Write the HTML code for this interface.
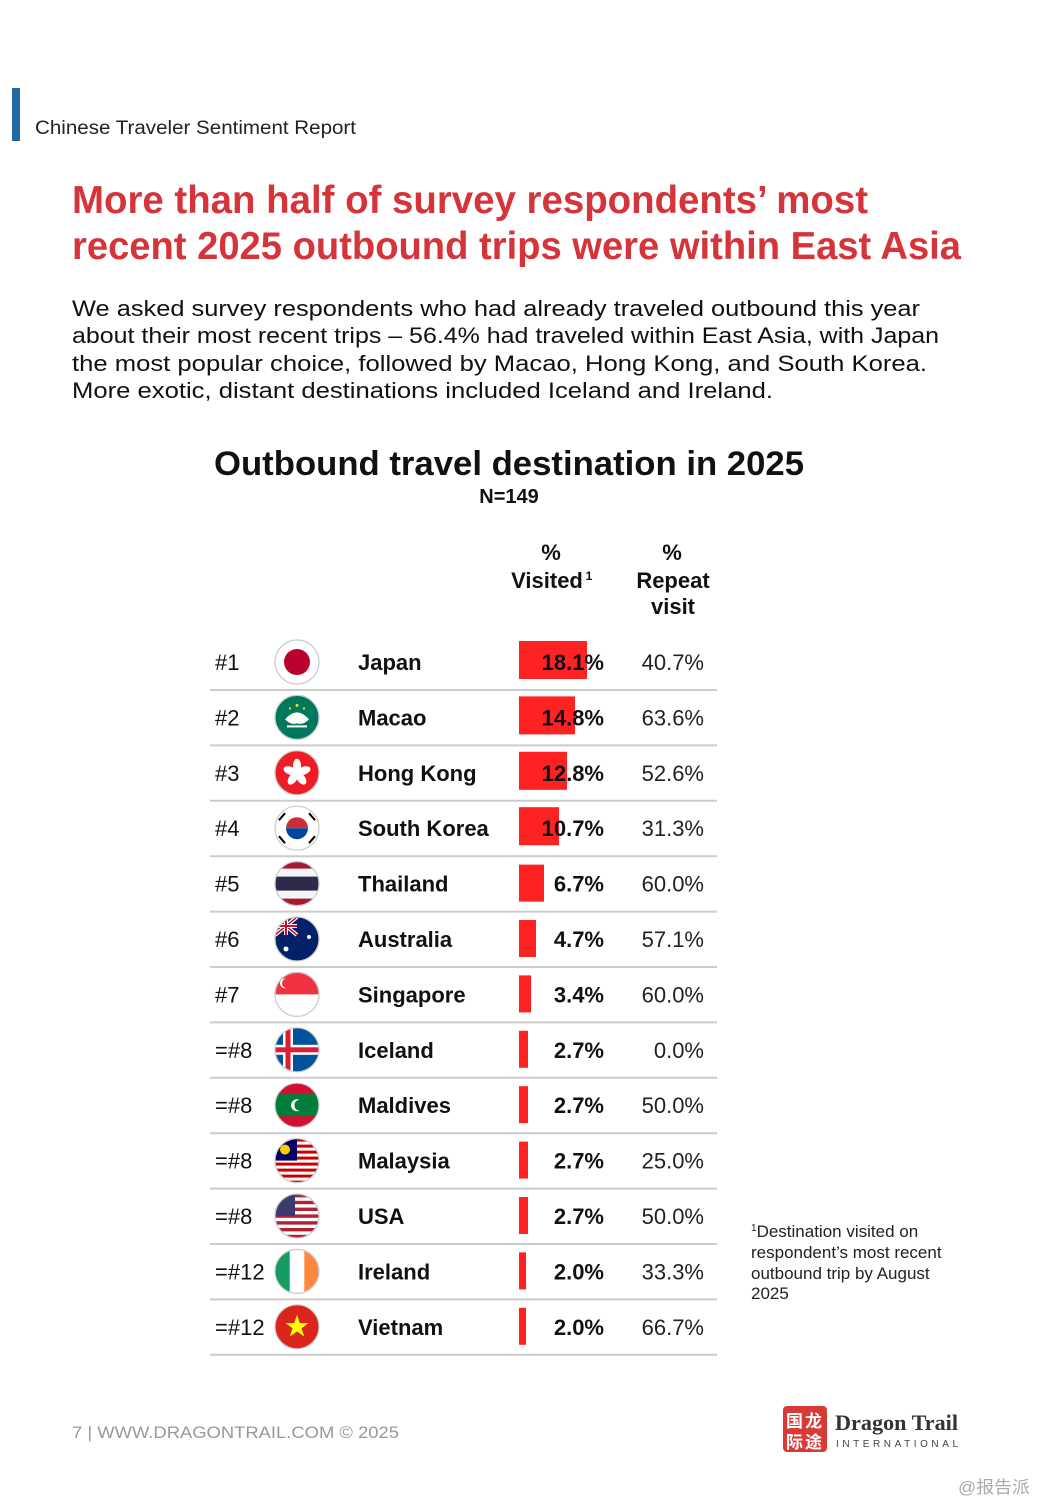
<!DOCTYPE html>
<html><head><meta charset="utf-8"><style>html,body{margin:0;padding:0;background:#fff}svg{display:block}</style></head><body>
<svg width="1038" height="1500" viewBox="0 0 1038 1500" xmlns="http://www.w3.org/2000/svg" font-family="'Liberation Sans','Noto Sans CJK SC',sans-serif">
<defs><clipPath id="c"><circle cx="0" cy="0" r="22"/></clipPath></defs>
<rect x="12" y="88" width="8" height="53" fill="#1f6aa5"/>
<text x="35" y="134" font-size="19" fill="#222" textLength="321" lengthAdjust="spacingAndGlyphs">Chinese Traveler Sentiment Report</text>
<g fill="#d4343a" font-weight="bold" font-size="39">
<text x="72" y="213" textLength="796" lengthAdjust="spacingAndGlyphs">More than half of survey respondents’ most</text>
<text x="72" y="259" textLength="889" lengthAdjust="spacingAndGlyphs">recent 2025 outbound trips were within East Asia</text></g>
<g fill="#111" font-size="22" lengthAdjust="spacingAndGlyphs">
<text x="72" y="316" textLength="848" lengthAdjust="spacingAndGlyphs">We asked survey respondents who had already traveled outbound this year</text>
<text x="72" y="343" textLength="867" lengthAdjust="spacingAndGlyphs">about their most recent trips – 56.4% had traveled within East Asia, with Japan</text>
<text x="72" y="371" textLength="855" lengthAdjust="spacingAndGlyphs">the most popular choice, followed by Macao, Hong Kong, and South Korea.</text>
<text x="72" y="398" textLength="701" lengthAdjust="spacingAndGlyphs">More exotic, distant destinations included Iceland and Ireland.</text></g>
<text x="214" y="475" font-size="34" font-weight="bold" fill="#111" textLength="590" lengthAdjust="spacingAndGlyphs">Outbound travel destination in 2025</text>
<text x="509" y="503" font-size="20" font-weight="bold" fill="#111" text-anchor="middle">N=149</text>
<g font-size="22" font-weight="bold" fill="#111" text-anchor="middle">
<text x="551" y="560">%</text><text x="547" y="588">Visited</text><text x="589" y="580" font-size="12">1</text>
<text x="672" y="560">%</text><text x="673" y="588">Repeat</text><text x="673" y="614">visit</text></g>

<g id="rows" font-size="22">
<!-- row template: y center -->
<g transform="translate(0,662)">
<text x="215" y="8" fill="#111">#1</text>
<g transform="translate(297,0)"><g clip-path="url(#c)"><rect x="-22" y="-22" width="44" height="44" fill="#fff"/><circle r="13" fill="#bc002d"/></g><circle r="22" fill="none" stroke="#ccc" stroke-width="1.2"/></g>
<text x="358" y="8" font-weight="bold" fill="#111">Japan</text>
<rect x="519" y="-21" width="68" height="38" fill="#fe2322"/>
<text x="604" y="8" font-weight="bold" text-anchor="end" fill="#111">18.1%</text>
<text x="704" y="8" text-anchor="end" fill="#222">40.7%</text>
<line x1="210" x2="717" y1="28" y2="28" stroke="#ccc" stroke-width="2"/></g>

<g transform="translate(0,717.4)">
<text x="215" y="8" fill="#111">#2</text>
<g transform="translate(297,0)"><g clip-path="url(#c)"><rect x="-22" y="-22" width="44" height="44" fill="#00785e"/><path d="M-12,2 Q0,-12 12,2 Q6,8 0,6 Q-6,8 -12,2Z" fill="#fff"/><rect x="-10" y="8" width="20" height="2" fill="#fff"/><circle cx="0" cy="-12" r="1.5" fill="#f9d616"/><circle cx="-7" cy="-9" r="1.2" fill="#f9d616"/><circle cx="7" cy="-9" r="1.2" fill="#f9d616"/></g><circle r="22" fill="none" stroke="#ccc" stroke-width="1.2"/></g>
<text x="358" y="8" font-weight="bold" fill="#111">Macao</text>
<rect x="519" y="-21" width="56" height="38" fill="#fe2322"/>
<text x="604" y="8" font-weight="bold" text-anchor="end" fill="#111">14.8%</text>
<text x="704" y="8" text-anchor="end" fill="#222">63.6%</text>
<line x1="210" x2="717" y1="28" y2="28" stroke="#ccc" stroke-width="2"/></g>

<g transform="translate(0,772.8)">
<text x="215" y="8" fill="#111">#3</text>
<g transform="translate(297,0)"><g clip-path="url(#c)"><rect x="-22" y="-22" width="44" height="44" fill="#ee1c25"/><g fill="#fff"><ellipse cx="0" cy="-7" rx="4" ry="7"/><ellipse cx="0" cy="-7" rx="4" ry="7" transform="rotate(72)"/><ellipse cx="0" cy="-7" rx="4" ry="7" transform="rotate(144)"/><ellipse cx="0" cy="-7" rx="4" ry="7" transform="rotate(216)"/><ellipse cx="0" cy="-7" rx="4" ry="7" transform="rotate(288)"/></g></g><circle r="22" fill="none" stroke="#ccc" stroke-width="1.2"/></g>
<text x="358" y="8" font-weight="bold" fill="#111">Hong Kong</text>
<rect x="519" y="-21" width="48" height="38" fill="#fe2322"/>
<text x="604" y="8" font-weight="bold" text-anchor="end" fill="#111">12.8%</text>
<text x="704" y="8" text-anchor="end" fill="#222">52.6%</text>
<line x1="210" x2="717" y1="28" y2="28" stroke="#ccc" stroke-width="2"/></g>

<g transform="translate(0,828.2)">
<text x="215" y="8" fill="#111">#4</text>
<g transform="translate(297,0)"><g clip-path="url(#c)"><rect x="-22" y="-22" width="44" height="44" fill="#fff"/><path d="M-11,0 A11,11 0 0 1 11,0Z" fill="#cd2e3a"/><path d="M-11,0 A11,11 0 0 0 11,0Z" fill="#0047a0"/><g stroke="#000" stroke-width="2"><line x1="-18" y1="-8" x2="-12" y2="-15"/><line x1="18" y1="-8" x2="12" y2="-15"/><line x1="-18" y1="8" x2="-12" y2="15"/><line x1="18" y1="8" x2="12" y2="15"/></g></g><circle r="22" fill="none" stroke="#ccc" stroke-width="1.2"/></g>
<text x="358" y="8" font-weight="bold" fill="#111">South Korea</text>
<rect x="519" y="-21" width="40" height="38" fill="#fe2322"/>
<text x="604" y="8" font-weight="bold" text-anchor="end" fill="#111">10.7%</text>
<text x="704" y="8" text-anchor="end" fill="#222">31.3%</text>
<line x1="210" x2="717" y1="28" y2="28" stroke="#ccc" stroke-width="2"/></g>

<g transform="translate(0,883.6)">
<text x="215" y="8" fill="#111">#5</text>
<g transform="translate(297,0)"><g clip-path="url(#c)"><rect x="-22" y="-22" width="44" height="44" fill="#a51931"/><rect x="-22" y="-15" width="44" height="30" fill="#f4f5f8"/><rect x="-22" y="-7" width="44" height="14" fill="#2d2a4a"/></g><circle r="22" fill="none" stroke="#ccc" stroke-width="1.2"/></g>
<text x="358" y="8" font-weight="bold" fill="#111">Thailand</text>
<rect x="519" y="-19" width="25" height="37" fill="#fe2322"/>
<text x="604" y="8" font-weight="bold" text-anchor="end" fill="#111">6.7%</text>
<text x="704" y="8" text-anchor="end" fill="#222">60.0%</text>
<line x1="210" x2="717" y1="28" y2="28" stroke="#ccc" stroke-width="2"/></g>

<g transform="translate(0,939)">
<text x="215" y="8" fill="#111">#6</text>
<g transform="translate(297,0)"><g clip-path="url(#c)"><rect x="-22" y="-22" width="44" height="44" fill="#012169"/><g stroke="#fff" stroke-width="4"><line x1="-22" y1="-22" x2="0" y2="-4"/><line x1="0" y1="-22" x2="-22" y2="-4"/></g><g stroke="#c8102e" stroke-width="1.5"><line x1="-22" y1="-22" x2="0" y2="-4"/><line x1="0" y1="-22" x2="-22" y2="-4"/></g><rect x="-22" y="-15" width="22" height="4" fill="#fff"/><rect x="-13" y="-22" width="4" height="18" fill="#fff"/><rect x="-22" y="-14" width="22" height="2" fill="#c8102e"/><rect x="-12" y="-22" width="2" height="18" fill="#c8102e"/><circle cx="12" cy="-2" r="2" fill="#fff"/><circle cx="-11" cy="10" r="2.5" fill="#fff"/></g><circle r="22" fill="none" stroke="#ccc" stroke-width="1.2"/></g>
<text x="358" y="8" font-weight="bold" fill="#111">Australia</text>
<rect x="519" y="-19" width="17" height="37" fill="#fe2322"/>
<text x="604" y="8" font-weight="bold" text-anchor="end" fill="#111">4.7%</text>
<text x="704" y="8" text-anchor="end" fill="#222">57.1%</text>
<line x1="210" x2="717" y1="28" y2="28" stroke="#ccc" stroke-width="2"/></g>

<g transform="translate(0,994.4)">
<text x="215" y="8" fill="#111">#7</text>
<g transform="translate(297,0)"><g clip-path="url(#c)"><rect x="-22" y="-22" width="44" height="44" fill="#fff"/><rect x="-22" y="-22" width="44" height="22" fill="#ef3340"/><circle cx="-12" cy="-11" r="5" fill="#fff"/><circle cx="-10" cy="-11" r="5" fill="#ef3340"/></g><circle r="22" fill="none" stroke="#ccc" stroke-width="1.2"/></g>
<text x="358" y="8" font-weight="bold" fill="#111">Singapore</text>
<rect x="519" y="-19" width="12" height="37" fill="#fe2322"/>
<text x="604" y="8" font-weight="bold" text-anchor="end" fill="#111">3.4%</text>
<text x="704" y="8" text-anchor="end" fill="#222">60.0%</text>
<line x1="210" x2="717" y1="28" y2="28" stroke="#ccc" stroke-width="2"/></g>

<g transform="translate(0,1049.8)">
<text x="215" y="8" fill="#111">=#8</text>
<g transform="translate(297,0)"><g clip-path="url(#c)"><rect x="-22" y="-22" width="44" height="44" fill="#02529c"/><rect x="-22" y="-5" width="44" height="10" fill="#fff"/><rect x="-14" y="-22" width="10" height="44" fill="#fff"/><rect x="-22" y="-2.5" width="44" height="5" fill="#dc1e35"/><rect x="-11.5" y="-22" width="5" height="44" fill="#dc1e35"/></g><circle r="22" fill="none" stroke="#ccc" stroke-width="1.2"/></g>
<text x="358" y="8" font-weight="bold" fill="#111">Iceland</text>
<rect x="519" y="-19" width="9" height="37" fill="#fe2322"/>
<text x="604" y="8" font-weight="bold" text-anchor="end" fill="#111">2.7%</text>
<text x="704" y="8" text-anchor="end" fill="#222">0.0%</text>
<line x1="210" x2="717" y1="28" y2="28" stroke="#ccc" stroke-width="2"/></g>

<g transform="translate(0,1105.2)">
<text x="215" y="8" fill="#111">=#8</text>
<g transform="translate(297,0)"><g clip-path="url(#c)"><rect x="-22" y="-22" width="44" height="44" fill="#d21034"/><rect x="-22" y="-11" width="44" height="22" fill="#007e3a"/><circle cx="0" cy="0" r="6" fill="#fff"/><circle cx="3" cy="0" r="5.5" fill="#007e3a"/></g><circle r="22" fill="none" stroke="#ccc" stroke-width="1.2"/></g>
<text x="358" y="8" font-weight="bold" fill="#111">Maldives</text>
<rect x="519" y="-19" width="9" height="37" fill="#fe2322"/>
<text x="604" y="8" font-weight="bold" text-anchor="end" fill="#111">2.7%</text>
<text x="704" y="8" text-anchor="end" fill="#222">50.0%</text>
<line x1="210" x2="717" y1="28" y2="28" stroke="#ccc" stroke-width="2"/></g>

<g transform="translate(0,1160.6)">
<text x="215" y="8" fill="#111">=#8</text>
<g transform="translate(297,0)"><g clip-path="url(#c)"><rect x="-22" y="-22" width="44" height="44" fill="#fff"/><g fill="#cc0001"><rect x="-22" y="-22" width="44" height="3"/><rect x="-22" y="-16" width="44" height="3"/><rect x="-22" y="-10" width="44" height="3"/><rect x="-22" y="-4" width="44" height="3"/><rect x="-22" y="2" width="44" height="3"/><rect x="-22" y="8" width="44" height="3"/><rect x="-22" y="14" width="44" height="3"/><rect x="-22" y="20" width="44" height="3"/></g><rect x="-22" y="-22" width="22" height="22" fill="#010066"/><circle cx="-12" cy="-11" r="5" fill="#fc0"/></g><circle r="22" fill="none" stroke="#ccc" stroke-width="1.2"/></g>
<text x="358" y="8" font-weight="bold" fill="#111">Malaysia</text>
<rect x="519" y="-19" width="9" height="37" fill="#fe2322"/>
<text x="604" y="8" font-weight="bold" text-anchor="end" fill="#111">2.7%</text>
<text x="704" y="8" text-anchor="end" fill="#222">25.0%</text>
<line x1="210" x2="717" y1="28" y2="28" stroke="#ccc" stroke-width="2"/></g>

<g transform="translate(0,1216)">
<text x="215" y="8" fill="#111">=#8</text>
<g transform="translate(297,0)"><g clip-path="url(#c)"><rect x="-22" y="-22" width="44" height="44" fill="#fff"/><g fill="#b22234"><rect x="-22" y="-22" width="44" height="3.4"/><rect x="-22" y="-15.2" width="44" height="3.4"/><rect x="-22" y="-8.4" width="44" height="3.4"/><rect x="-22" y="-1.6" width="44" height="3.4"/><rect x="-22" y="5.2" width="44" height="3.4"/><rect x="-22" y="12" width="44" height="3.4"/><rect x="-22" y="18.8" width="44" height="3.4"/></g><rect x="-22" y="-22" width="20" height="22" fill="#3c3b6e"/></g><circle r="22" fill="none" stroke="#ccc" stroke-width="1.2"/></g>
<text x="358" y="8" font-weight="bold" fill="#111">USA</text>
<rect x="519" y="-19" width="9" height="37" fill="#fe2322"/>
<text x="604" y="8" font-weight="bold" text-anchor="end" fill="#111">2.7%</text>
<text x="704" y="8" text-anchor="end" fill="#222">50.0%</text>
<line x1="210" x2="717" y1="28" y2="28" stroke="#ccc" stroke-width="2"/></g>

<g transform="translate(0,1271.4)">
<text x="215" y="8" fill="#111">=#12</text>
<g transform="translate(297,0)"><g clip-path="url(#c)"><rect x="-22" y="-22" width="44" height="44" fill="#fff"/><rect x="-22" y="-22" width="14.7" height="44" fill="#169b62"/><rect x="7.3" y="-22" width="14.7" height="44" fill="#ff883e"/></g><circle r="22" fill="none" stroke="#ccc" stroke-width="1.2"/></g>
<text x="358" y="8" font-weight="bold" fill="#111">Ireland</text>
<rect x="519" y="-19" width="7" height="37" fill="#fe2322"/>
<text x="604" y="8" font-weight="bold" text-anchor="end" fill="#111">2.0%</text>
<text x="704" y="8" text-anchor="end" fill="#222">33.3%</text>
<line x1="210" x2="717" y1="28" y2="28" stroke="#ccc" stroke-width="2"/></g>

<g transform="translate(0,1326.8)">
<text x="215" y="8" fill="#111">=#12</text>
<g transform="translate(297,0)"><g clip-path="url(#c)"><rect x="-22" y="-22" width="44" height="44" fill="#da251d"/><polygon points="0,-12 2.8,-3.7 11.4,-3.7 4.5,1.4 7.1,9.7 0,4.6 -7.1,9.7 -4.5,1.4 -11.4,-3.7 -2.8,-3.7" fill="#ff0"/></g><circle r="22" fill="none" stroke="#ccc" stroke-width="1.2"/></g>
<text x="358" y="8" font-weight="bold" fill="#111">Vietnam</text>
<rect x="519" y="-19" width="7" height="37" fill="#fe2322"/>
<text x="604" y="8" font-weight="bold" text-anchor="end" fill="#111">2.0%</text>
<text x="704" y="8" text-anchor="end" fill="#222">66.7%</text>
<line x1="210" x2="717" y1="28" y2="28" stroke="#ccc" stroke-width="2"/></g>
</g>

<g font-size="17" fill="#222">
<text x="751" y="1237"><tspan font-size="10" dy="-6">1</tspan><tspan dy="6">Destination visited on</tspan></text>
<text x="751" y="1258">respondent’s most recent</text>
<text x="751" y="1279">outbound trip by August</text>
<text x="751" y="1299">2025</text></g>

<text x="72" y="1438" font-size="17" fill="#999" textLength="327" lengthAdjust="spacingAndGlyphs">7  |  WWW.DRAGONTRAIL.COM ©  2025</text>
<rect x="783" y="1406" width="44" height="46" rx="4" fill="#d83a35"/>
<g fill="#fff" font-size="17" font-weight="bold" font-family="'Noto Sans CJK SC',sans-serif"><text x="786" y="1427">国</text><text x="805" y="1427">龙</text><text x="786" y="1448">际</text><text x="805" y="1448">途</text></g>
<text x="835" y="1430" font-size="22" font-weight="bold" font-family="'Liberation Serif',serif" fill="#333" textLength="123" lengthAdjust="spacingAndGlyphs">Dragon Trail</text>
<text x="836" y="1447" font-size="10" fill="#444" textLength="122" lengthAdjust="spacing">INTERNATIONAL</text>
<text x="958" y="1493" font-size="17" fill="#aaa" textLength="72" lengthAdjust="spacingAndGlyphs">@报告派</text>
</svg>
</body></html>
